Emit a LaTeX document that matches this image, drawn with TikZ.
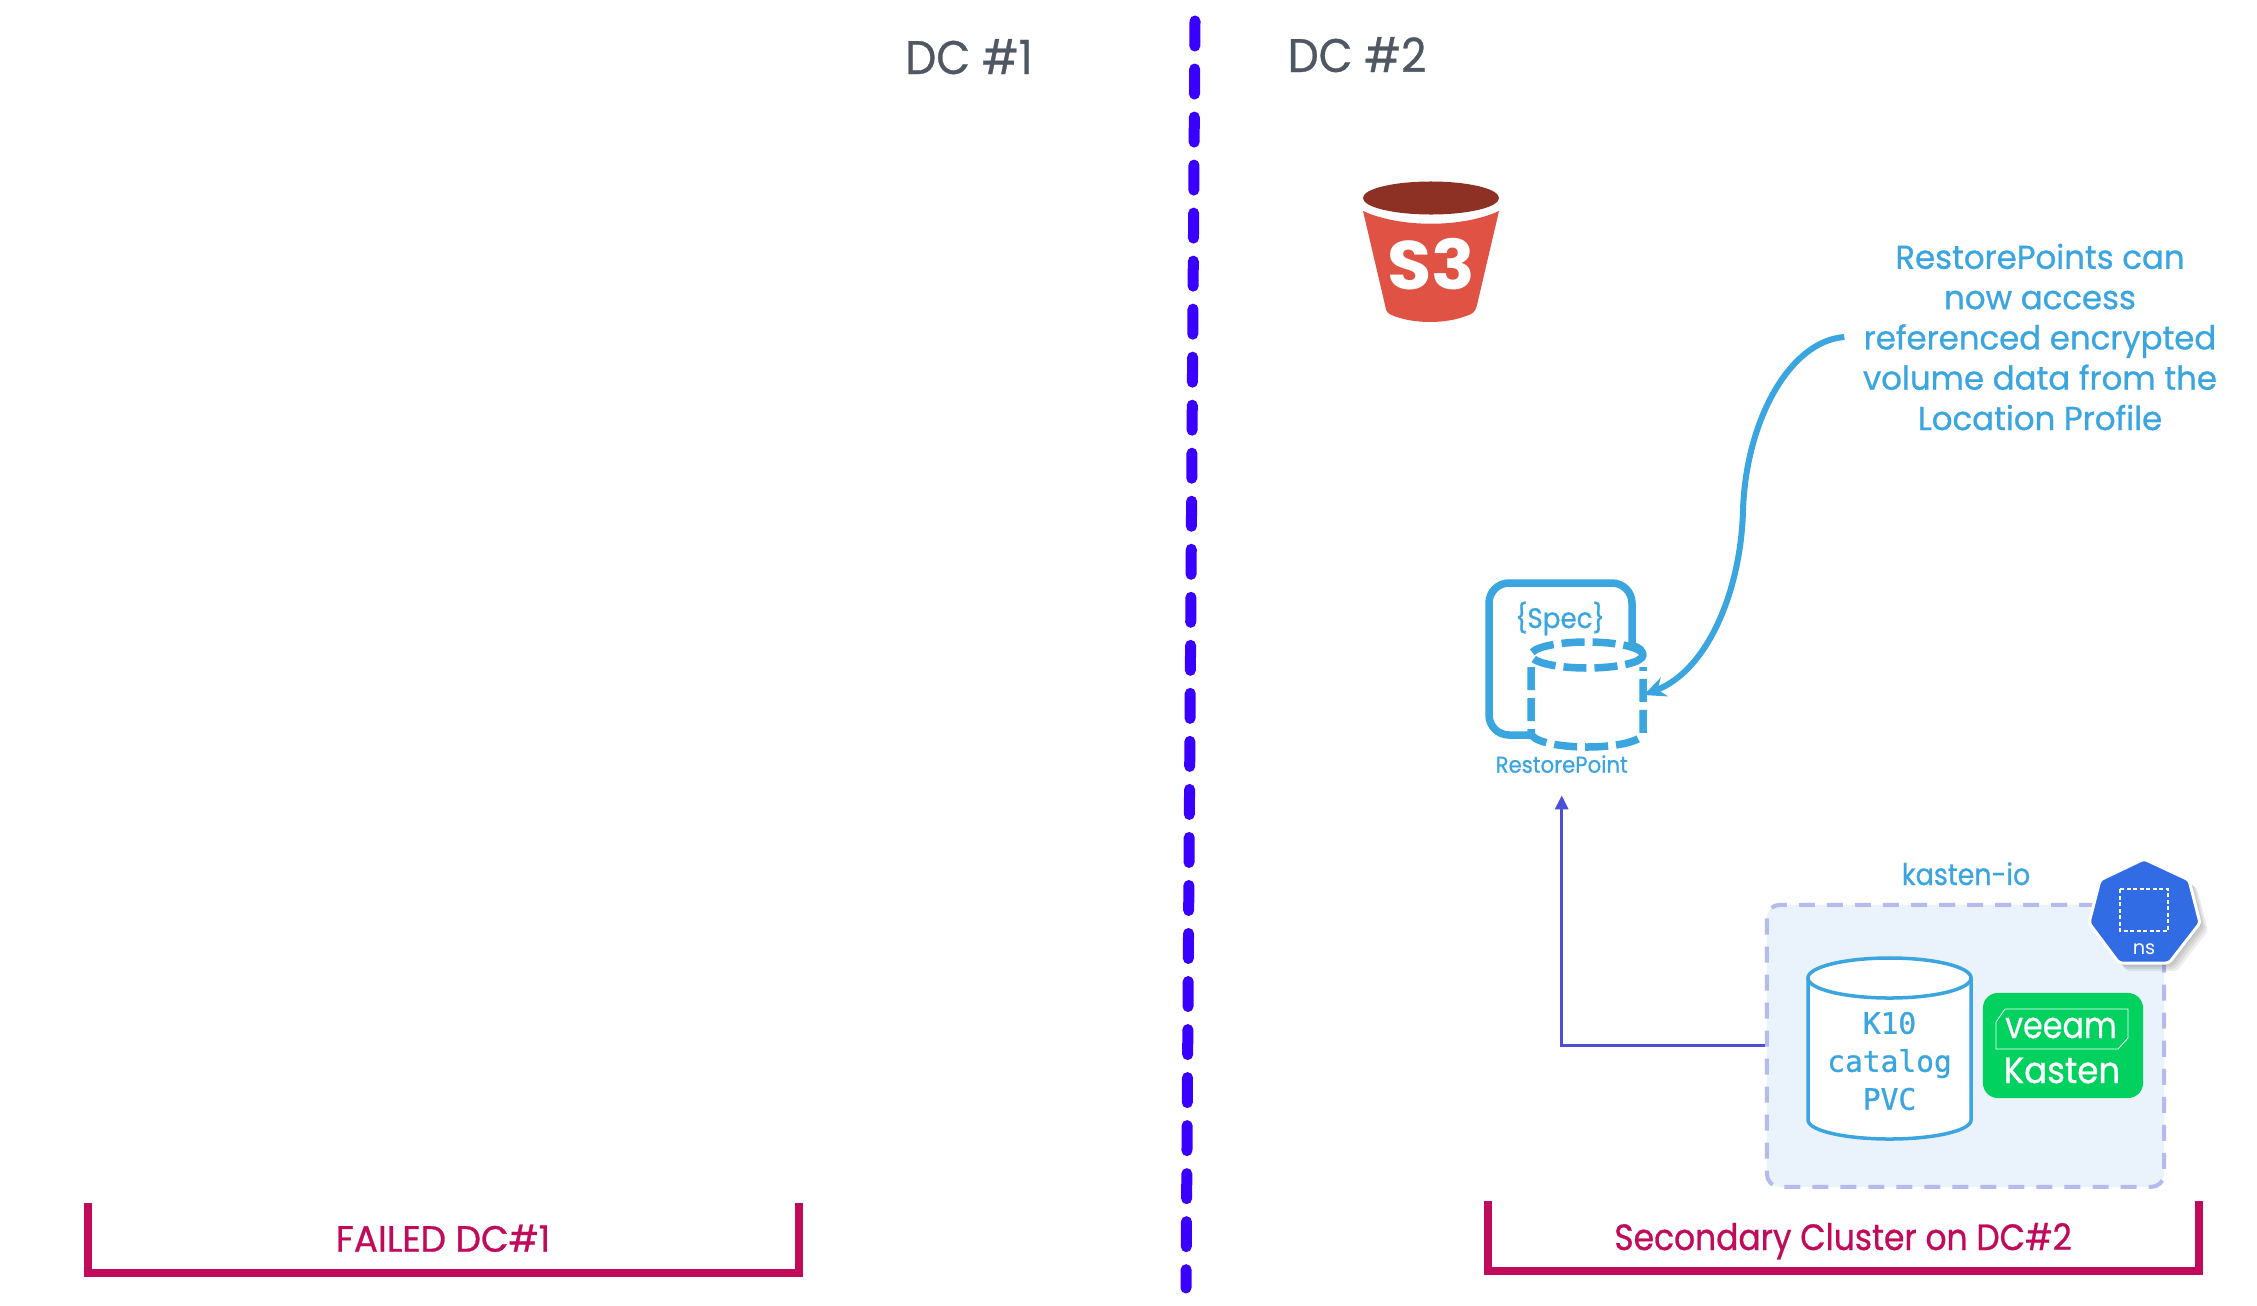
\documentclass[tikz,border=0pt]{standalone}
\usepackage{fontspec}
\setmainfont{Poppins}
\setmonofont[FakeBold=0.8]{DejaVu Sans Mono}
\newfontfamily\dcfont[FakeBold=0.6,FakeStretch=0.93]{Poppins}
\newfontfamily\notefont[FakeBold=0.8,FakeStretch=0.98]{Poppins}
\newfontfamily\narrowfont[FakeBold=0.8,FakeStretch=0.9]{Poppins}
\newfontfamily\tightfont[FakeBold=0.8,FakeStretch=0.93]{Poppins}
\newfontfamily\veeamfont[FakeBold=0.4,FakeStretch=0.87]{Poppins}
\newfontfamily\bucketfont[FakeStretch=1.05]{Poppins Bold}
\usetikzlibrary{arrows.meta}
\definecolor{dcgray}{HTML}{4F5862}
\definecolor{splitblue}{HTML}{3A00FF}
\definecolor{specblue}{HTML}{3BA5E0}
\definecolor{flowblue}{HTML}{4A4FD6}
\definecolor{bracketred}{HTML}{C20A5A}
\definecolor{nsfill}{HTML}{EAF3FB}
\definecolor{nsdash}{HTML}{B5BBEE}
\definecolor{nsblue}{HTML}{326CE5}
\definecolor{kastengreen}{HTML}{00D15F}
\definecolor{s3light}{HTML}{E05243}
\definecolor{s3dark}{HTML}{8C3123}
\begin{document}
\begin{tikzpicture}[
x=0.01cm,y=-0.01cm,
every node/.style={inner sep=0pt},
dclabel/.style={anchor=base,text=dcgray,font=\dcfont\fontsize{13.4}{16}\selectfont},
sitelabel/.style={anchor=base,text=bracketred},
bluelabel/.style={anchor=base,text=specblue},
bracket/.style={bracketred,line width=0.08cm,line join=miter},
specline/.style={specblue,line width=0.075cm},
specdash/.style={specline,dash pattern=on 0.23cm off 0.08cm},
flow/.style={flowblue,line width=0.03cm,-{Triangle[length=0.14cm,width=0.13cm]}}
]
\useasboundingbox (0,0) rectangle (2257,1306);
\draw[splitblue,line width=0.11cm,line cap=round,dash pattern=on 0.25cm off 0.23cm] (1195,21) -- (1186,1288);
\node[dclabel] (dc1) at (969,74) {DC \#1};
\node[dclabel] (dc2) at (1357,72) {DC \#2};
\fill[s3light] (1363,211) .. controls (1400,228) and (1462,228) .. (1499,211) -- (1477,305) .. controls (1475,313) and (1472,314) .. (1466,316) .. controls (1445,324) and (1415,324) .. (1394,316) .. controls (1388,314) and (1386,312) .. (1385,305) -- cycle;
\fill[s3dark] (1431,198) ellipse [x radius=0.68cm,y radius=0.165cm];
\node[anchor=base,text=white,font=\bucketfont\fontsize{19.5}{22}\selectfont] (s3) at (1431,289) {S3};
\node[bluelabel,anchor=center,align=center,font=\notefont\fontsize{9.4}{11.46}\selectfont,inner sep=0.18cm] (note) at (2040,337) {RestorePoints can\\now access\\referenced encrypted\\volume data from the\\Location Profile};
\draw[specline,rounded corners=0.2cm] (1531,735) -- (1489,735) -- (1489,583) -- (1632,583) -- (1632,648);
\draw[specline] (1632,646) .. controls (1640,647) and (1643,651) .. (1643,657);
\draw[specdash] (1587,655) ellipse [x radius=0.56cm,y radius=0.13cm];
\draw[specdash] (1531,667) -- (1531,733) arc [start angle=180,end angle=360,x radius=0.56cm,y radius=0.14cm] -- (1643,667);
\node[minimum width=1.12cm,minimum height=1cm] (rpvol) at (1587,695) {};
\node[bluelabel,font=\tightfont\fontsize{8}{10}\selectfont] (spec) at (1560,628) {\{Spec\}};
\node[bluelabel,font=\tightfont\fontsize{6.5}{8}\selectfont,text depth=0.22cm] (rplabel) at (1561.7,772.7) {RestorePoint};
\draw[specblue,line width=0.06cm,-{Stealth[length=0.22cm,width=0.2cm]}] (note.west) .. controls (1790,341) and (1746,420) .. (1743,510) .. controls (1741,590) and (1708,670) .. (rpvol.east);
\node[fill=nsfill,draw=nsdash,line width=0.04cm,dash pattern=on 0.16cm off 0.12cm,rounded corners=0.13cm,minimum width=3.97cm,minimum height=2.82cm] (nsbox) at (1965.5,1045.85) {};
\draw[flow] (nsbox.west) -| (rplabel.south);
\node[bluelabel,font=\narrowfont\fontsize{8.5}{10}\selectfont] (nslabel) at (1966,885) {kasten-io};
\draw[specblue,line width=0.035cm,fill=white] (1808,978) -- (1808,1120) arc [start angle=180,end angle=360,x radius=0.815cm,y radius=0.19cm] -- (1971,978);
\draw[specblue,line width=0.035cm,fill=white] (1889.5,978) ellipse [x radius=0.815cm,y radius=0.2cm];
\node[anchor=center,align=center,text=specblue,font=\fontsize{8.4}{10.8}\ttfamily\selectfont] (catalog) at (1889.5,1061) {K10\\catalog\\PVC};
\node[fill=kastengreen,rounded corners=0.15cm,minimum width=1.6cm,minimum height=1.05cm] (kasten) at (2063,1045.5) {};
\draw[white,line width=0.008cm] (1996,1022) -- (2005,1009) -- (2128,1009) -- (2128,1038) -- (2118,1049) -- (1996,1049) -- cycle;
\node[anchor=base,text=white,font=\veeamfont\fontsize{10.4}{12}\selectfont] (veeam) at (2061,1038) {veeam};
\node[anchor=base,text=white,font=\tightfont\fontsize{10.4}{12}\selectfont] (kastenlabel) at (2062,1083) {Kasten};
\foreach \d in {2,4,6,8}
  \fill[black,opacity=0.07,shift={(\d,\d)},rounded corners=0.03cm] (2144,859) -- (2189,880) -- (2200,923) -- (2169,963) -- (2119,963) -- (2089,923) -- (2100,880) -- cycle;
\draw[white,line width=0.03cm,fill=nsblue,rounded corners=0.03cm] (2144,859) -- (2189,880) -- (2200,923) -- (2169,963) -- (2119,963) -- (2089,923) -- (2100,880) -- cycle;
\draw[white,line width=0.015cm,dash pattern=on 0.04cm off 0.025cm] (2120,889) rectangle (2168,931);
\node[anchor=base,text=white,font=\fontsize{5.5}{7}\selectfont] (ns) at (2144,954) {ns};
\draw[bracket] (88,1203) -- (88,1273) -- (799,1273) -- (799,1203);
\node[sitelabel,font=\notefont\fontsize{10.4}{12}\selectfont] (failed) at (443,1251.7) {FAILED DC\#1};
\draw[bracket] (1488,1201) -- (1488,1271) -- (2199,1271) -- (2199,1201);
\node[sitelabel,font=\narrowfont\fontsize{10.4}{12}\selectfont] (secondary) at (1843,1250) {Secondary Cluster on DC\#2};
\end{tikzpicture}
\end{document}
